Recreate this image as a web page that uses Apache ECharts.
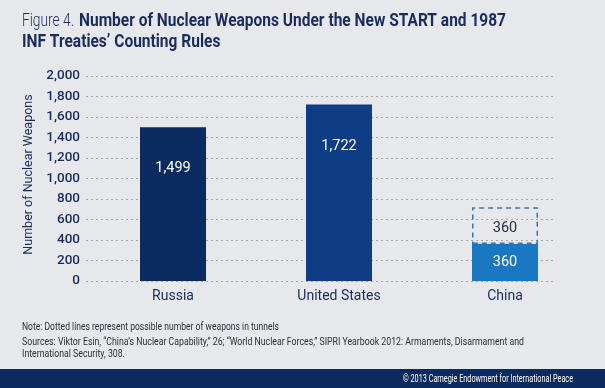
<!DOCTYPE html>
<html><head><meta charset="utf-8">
<script src="https://cdn.jsdelivr.net/npm/echarts@6/dist/echarts.min.js"></script>
<style>html,body{margin:0;padding:0;background:#e6e8eb}#c{width:605px;height:388px}</style>
</head><body><div id="c"></div>
<script>
var categories = ['Russia', 'United States', 'China'];
var deployed = [1499, 1722, 360];
var tunnels = ['-', '-', 360];
var yTicks = [0, 200, 400, 600, 800, 1000, 1200, 1400, 1600, 1800, 2000];
var barColors = ['#0b2a5f', '#0e3d85', '#1a77c1'];

var F = 'Roboto, Lato, "Open Sans", sans-serif';
var navy = '#1a2b5e';
var ctx = document.createElement('canvas').getContext('2d');
function sx(text, font, w) { ctx.font = font; return w / ctx.measureText(text).width; }

function fitText(text, font, x, y, w, fill) {
  return {type: 'text', x: x, y: y, scaleX: sx(text, font, w), z: 10,
    style: {text: text, font: font, fill: fill, verticalAlign: 'middle', align: 'left'}};
}

var tA = 'Figure 4.';
var tB = 'Number of Nuclear Weapons Under the New START and 1987';
var tC = 'INF Treaties\u2019 Counting Rules';
var note = 'Note: Dotted lines represent possible number of weapons in tunnels';
var src1 = 'Sources: Viktor Esin, \u201cChina\u2019s Nuclear Capability,\u201d 26; \u201cWorld Nuclear Forces,\u201d SIPRI Yearbook 2012: Armaments, Disarmament and';
var src2 = 'International Security, 308.';
var copy = '\u00a9 2013 Carnegie Endowment for International Peace';

var fTitleL = '300 18px ' + F;
var fTitleB = 'bold 18px ' + F;
var fSmall = '10.5px ' + F;
var bScale = sx(tB, fTitleB, 427);
var sScale = sx(src1, fSmall, 502);

var chart = echarts.init(document.getElementById('c'));
chart.setOption({
  backgroundColor: '#e6e8eb',
  animation: false,
  grid: [
    {left: 86, right: 50, top: 76, bottom: 107},
    {left: 90, right: 17, top: 76, bottom: 107}
  ],
  xAxis: [
    {gridIndex: 0, type: 'category', data: categories, show: false},
    {gridIndex: 1, type: 'category', data: categories,
     axisLine: {show: false}, axisTick: {show: false},
     axisLabel: {fontFamily: F, fontSize: 14, color: navy, margin: 8}}
  ],
  yAxis: [
    {gridIndex: 0, type: 'value', min: yTicks[0], max: yTicks[yTicks.length - 1], interval: 200,
     name: 'Number of Nuclear Weapons', nameLocation: 'middle', nameGap: 48, nameRotate: 90,
     nameTextStyle: {fontFamily: F, fontSize: 12.5, color: navy, padding: [0, 0, 0, 8]},
     axisLine: {show: false}, axisTick: {show: false},
     axisLabel: {fontFamily: F, fontSize: 13.5, fontWeight: 500, color: navy, margin: 6,
       formatter: function (v) { return v.toLocaleString('en-US'); }},
     splitLine: {show: true, lineStyle: {color: '#a3a8b0', type: [2, 3], width: 1}}},
    {gridIndex: 1, type: 'value', min: 0, max: 2000, show: false, splitLine: {show: false}}
  ],
  series: [
    {type: 'bar', xAxisIndex: 1, yAxisIndex: 1, stack: 's', barWidth: 66,
     data: deployed.map(function (v, i) {
       return {value: v, itemStyle: {color: barColors[i]},
         label: i === 2 ? {position: 'inside'} : {position: 'insideTop', distance: 34}};
     }),
     label: {show: true, color: '#ffffff', fontFamily: F, fontSize: 14.5,
       formatter: function (p) { return p.value.toLocaleString('en-US'); }}},
    {type: 'bar', xAxisIndex: 1, yAxisIndex: 1, stack: 's', barWidth: 66,
     data: tunnels,
     itemStyle: {color: 'rgba(0,0,0,0)', borderColor: '#3a74b4', borderWidth: 1.5, borderType: [5, 4]},
     label: {show: true, position: 'inside', offset: [0, 3], color: '#2a2f45', fontFamily: F, fontSize: 14.5}}
  ],
  graphic: [
    fitText(tA, fTitleL, 22, 21, 52, navy),
    {type: 'text', x: 79, y: 21, scaleX: bScale, style: {text: tB, font: fTitleB, fill: navy, verticalAlign: 'middle'}},
    {type: 'text', x: 22, y: 42, scaleX: bScale, style: {text: tC, font: fTitleB, fill: navy, verticalAlign: 'middle'}},
    fitText(note, fSmall, 22, 327, 257, '#2a2f3a'),
    {type: 'text', x: 22, y: 342, scaleX: sScale, style: {text: src1, font: fSmall, fill: '#2a2f3a', verticalAlign: 'middle'}},
    {type: 'text', x: 22, y: 354, scaleX: sScale, style: {text: src2, font: fSmall, fill: '#2a2f3a', verticalAlign: 'middle'}},
    {type: 'rect', shape: {x: 0, y: 369, width: 605, height: 19}, style: {fill: '#0d2a5e'}},
    fitText(copy, fSmall, 403, 379, 170, '#ffffff')
  ]
});
</script></body></html>
